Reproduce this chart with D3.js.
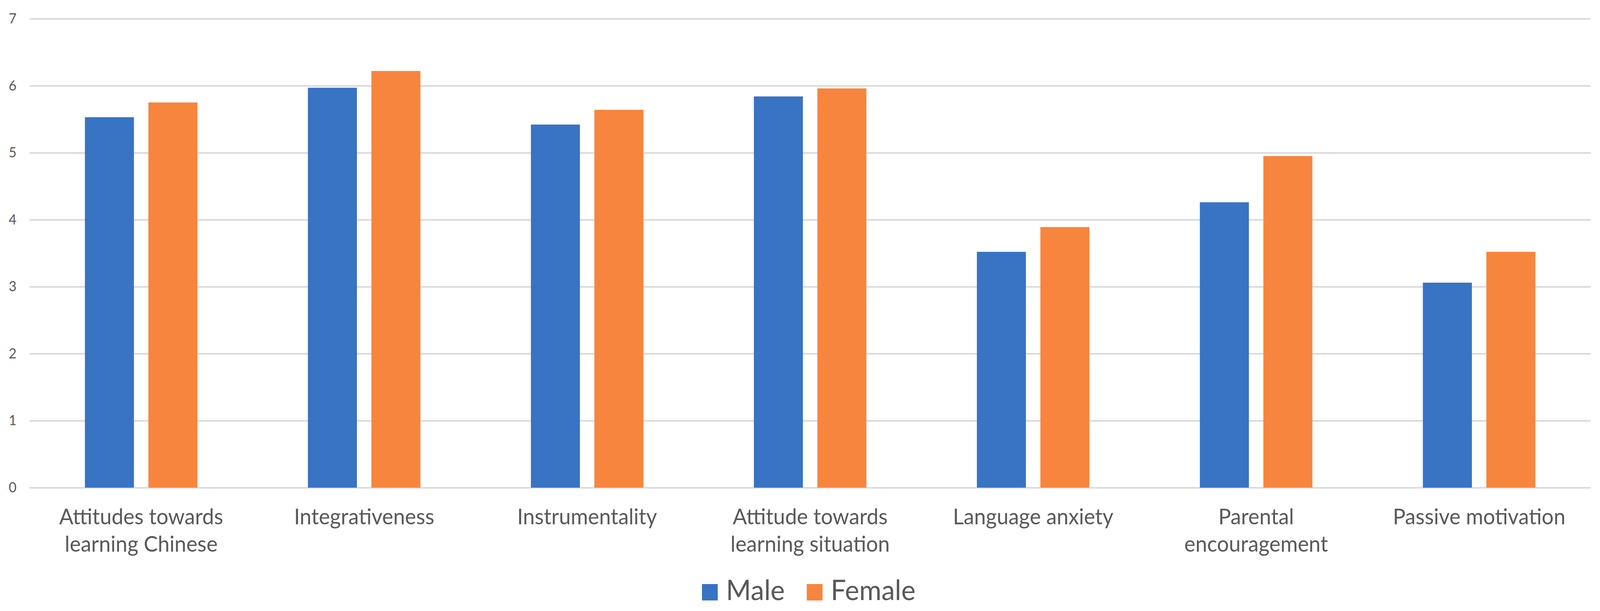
<!DOCTYPE html>
<html>
<head>
<meta charset="utf-8">
<title>Male vs Female</title>
<script src="https://cdn.jsdelivr.net/npm/d3@7"></script>
<style>
  html, body { margin: 0; padding: 0; background: #fff; overflow: hidden; }
  svg { display: block; }
  text { font-family: Lato, "Open Sans", sans-serif; fill: #595959; }
</style>
</head>
<body>
<div id="chart"></div>
<script>
// data
var categories = [
  "Attitudes towards learning Chinese",
  "Integrativeness",
  "Instrumentality",
  "Attitude towards learning situation",
  "Language anxiety",
  "Parental encouragement",
  "Passive motivation"
];
var labelLines = [
  ["Attitudes towards", "learning Chinese"],
  ["Integrativeness"],
  ["Instrumentality"],
  ["Attitude towards", "learning situation"],
  ["Language anxiety"],
  ["Parental", "encouragement"],
  ["Passive motivation"]
];
var seriesNames = ["Male", "Female"];
var male   = [5.53, 5.97, 5.42, 5.84, 3.52, 4.26, 3.06];
var female = [5.75, 6.22, 5.64, 5.96, 3.89, 4.95, 3.52];
var yTicks = [0, 1, 2, 3, 4, 5, 6, 7];
var colors = ["#3873c4", "#f7853d"];

var w = 4260, h = 1565;

// fit the drawing to whatever the window really is
var svg = d3.select("#chart").append("svg")
  .attr("viewBox", "0 0 " + w + " " + h)
  .attr("preserveAspectRatio", "none")
  .style("width", "100vw")
  .style("height", "100vh");

var x0 = d3.scaleBand().domain(categories).range([79, 4235]).padding(0);
var x1 = d3.scaleBand().domain(seriesNames).range([0, x0.bandwidth()])
  .paddingInner(0.228).paddingOuter(0.87);
var y = d3.scaleLinear().domain([0, 7]).range([1249, 48]);

// gridlines
svg.append("g")
  .attr("transform", "translate(79,0)")
  .call(d3.axisLeft(y).tickValues(yTicks).tickSize(-(4235 - 79)).tickFormat(""))
  .call(function(g) {
    g.select(".domain").remove();
    g.selectAll("line").attr("stroke", "#d9d9d9").attr("stroke-width", 4);
  });

// y tick labels
svg.append("g")
  .attr("transform", "translate(44,0)")
  .call(d3.axisLeft(y).tickValues(yTicks).tickSize(0).tickPadding(0).tickFormat(d3.format("d")))
  .call(function(g) {
    g.select(".domain").remove();
    g.selectAll("text").attr("font-size", 36).attr("fill", "#595959")
      .attr("font-family", "Lato, 'Open Sans', sans-serif");
  });

var rows = categories.map(function(c, i) {
  return { cat: c, values: [male[i], female[i]] };
});

// bars
var groups = svg.selectAll(".grp")
  .data(rows)
  .enter().append("g")
  .attr("class", "grp")
  .attr("transform", function(d) { return "translate(" + x0(d.cat) + ",0)"; });

groups.selectAll("rect")
  .data(function(d) { return d.values.map(function(v, j) { return { s: seriesNames[j], v: v, j: j }; }); })
  .enter().append("rect")
  .attr("x", function(d) { return x1(d.s); })
  .attr("y", function(d) { return y(d.v); })
  .attr("width", x1.bandwidth())
  .attr("height", function(d) { return y(0) - y(d.v); })
  .attr("fill", function(d) { return colors[d.j]; });

// category labels
var labels = svg.selectAll(".cat")
  .data(categories)
  .enter().append("text")
  .attr("class", "cat")
  .attr("text-anchor", "middle")
  .attr("font-size", 56)
  .attr("x", function(d) { return x0(d) + x0.bandwidth() / 2; })
  .attr("y", 1343);

labels.selectAll("tspan")
  .data(function(d, i) { return labelLines[i]; })
  .enter().append("tspan")
  .attr("x", function() { var p = this.parentNode; return p.getAttribute("x"); })
  .attr("dy", function(d, i) { return i === 0 ? 0 : 70; })
  .text(function(d) { return d; });

// legend
var legendX = [1869, 2148];
var leg = svg.selectAll(".leg")
  .data(seriesNames)
  .enter().append("g")
  .attr("class", "leg")
  .attr("transform", function(d, i) { return "translate(" + legendX[i] + ",1496)"; });

leg.append("rect")
  .attr("width", 42)
  .attr("height", 42)
  .attr("fill", function(d, i) { return colors[i]; });

leg.append("text")
  .attr("x", 64)
  .attr("y", 41)
  .attr("font-size", 72)
  .text(function(d) { return d; });
</script>
</body>
</html>
